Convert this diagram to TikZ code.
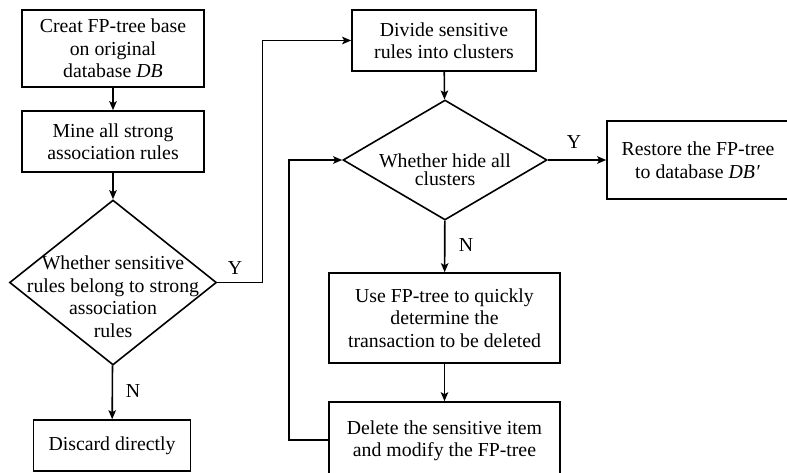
\documentclass[tikz,border=0pt]{standalone}
\usepackage{fontspec}
\setmainfont{Liberation Serif}
\usetikzlibrary{arrows.meta,shapes.geometric}
\begin{document}
\begin{tikzpicture}[x=1pt,y=-1pt,
  every node/.style={font=\fontsize{19.8}{22.5}\selectfont},
  procbox/.style={draw,line width=1.6pt,rectangle,inner sep=0pt,align=center},
  decision/.style={draw,line width=1.6pt,diamond,inner sep=0pt},
  flow/.style={line width=1.6pt,-{Stealth[length=9pt,width=7.5pt,inset=2pt]}},
  tag/.style={inner sep=0pt}]
\useasboundingbox (0,0) rectangle (787,472);

% left column
\node[procbox,minimum width=182pt,minimum height=77pt] (creat) at (113,48.5)
  {Creat FP-tree base\\on original\\database \textit{DB}};
\node[procbox,minimum width=182pt,minimum height=61pt] (mine) at (113,141.5)
  {Mine all strong\\association rules};
\node[decision,minimum width=207pt,minimum height=165pt,
  label={[align=center,yshift=-14pt]center:{Whether sensitive\\rules belong to strong\\association\\rules}}]
  (belong) at (113,282.5) {};
\node[procbox,minimum width=157pt,minimum height=51pt] (discard) at (112,445.5)
  {Discard directly};

% right part
\node[procbox,minimum width=184pt,minimum height=61pt] (divide) at (444,40.5)
  {Divide sensitive\\rules into clusters};
\node[decision,minimum width=204pt,minimum height=120pt,
  label={[align=center,yshift=-10pt,font=\fontsize{19.8}{18}\selectfont]center:{Whether hide all\\clusters}}]
  (hide) at (445,160) {};
\node[procbox,minimum width=182pt,minimum height=78pt] (restore) at (698,160)
  {Restore the FP-tree\\to database \textit{DB}\kern1.5pt′};
\node[procbox,minimum width=231pt,minimum height=90pt] (use) at (444.5,318)
  {Use FP-tree to quickly\\determine the\\transaction to be deleted};
\node[procbox,minimum width=231pt,minimum height=78pt] (delete) at (444.5,441)
  {Delete the sensitive item\\and modify the FP-tree};

% connectors
\draw[flow] (creat) -- (mine);
\draw[flow] (mine) -- (belong);
\draw[flow] (belong) -- (discard);
\draw[flow] (belong.east) -- ++(45,0) |- (divide.west);
\draw[flow] (divide) -- (hide);
\draw[flow] (hide.east) -- (restore.west);
\draw[flow] (hide) -- (use);
\draw[flow] (use) -- (delete);
\draw[flow] (delete.west |- 0,440) -- ++(-39,0) |- (hide.west);

% branch labels
\node[tag] (y1) at (235,268) {Y};
\node[tag] (n1) at (133,391) {N};
\node[tag] (y2) at (574,142) {Y};
\node[tag] (n2) at (466,245) {N};
\end{tikzpicture}
\end{document}
